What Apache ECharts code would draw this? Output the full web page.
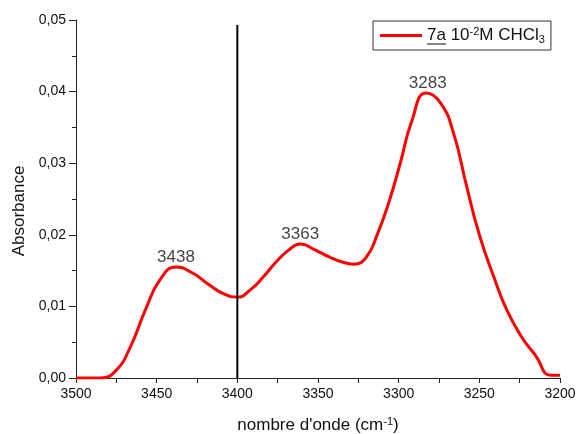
<!DOCTYPE html>
<html>
<head>
<meta charset="utf-8">
<script src="https://cdn.jsdelivr.net/npm/echarts@6/dist/echarts.min.js"></script>
<style>
html,body{margin:0;padding:0;background:#fff;}
#chart{width:579px;height:434px;}
</style>
</head>
<body>
<div id="chart"></div>
<script>
// Wavenumber (cm-1) and absorbance
var wavenumbers = [3500, 3485, 3475, 3466, 3457, 3448, 3438, 3428, 3418, 3408, 3400, 3392, 3384, 3376, 3368, 3361, 3352, 3343, 3335, 3328, 3320, 3313, 3306, 3299, 3292, 3283, 3274, 3266, 3258, 3250, 3241, 3233, 3224, 3215, 3206, 3200];
var absorbance  = [0.0000, 0.0000, 0.0011, 0.0045, 0.0095, 0.0137, 0.0155, 0.0147, 0.0131, 0.0117, 0.0113, 0.0123, 0.0141, 0.0162, 0.0179, 0.0187, 0.0179, 0.0169, 0.0162, 0.0159, 0.0169, 0.0202, 0.0246, 0.0300, 0.0358, 0.0398, 0.0384, 0.0342, 0.0269, 0.0200, 0.0141, 0.0095, 0.0058, 0.0031, 0.0004, 0.0004];

var peakLabels = ['3438', '3363', '3283'];
var peakX = [3438, 3361, 3282];
var peakY = [0.0155, 0.0187, 0.0398];

var markerX = [3400, 3400];
var markerY = [0, 0.0493];

var xTicks = [3500, 3450, 3400, 3350, 3300, 3250, 3200];
var yTicks = [0, 0.01, 0.02, 0.03, 0.04, 0.05];

var seriesName = '7a 10-2M CHCl3';

var chart = echarts.init(document.getElementById('chart'), null, {renderer: 'canvas'});
var FONT = '"Liberation Sans", Arial, sans-serif';

var spectrum = wavenumbers.map(function (w, i) { return [w, absorbance[i]]; });
var marker = markerX.map(function (w, i) { return [w, markerY[i]]; });
var peaks = peakX.map(function (w, i) { return {value: [w, peakY[i]], name: peakLabels[i]}; });

chart.setOption({
  backgroundColor: '#fff',
  animation: false,
  textStyle: {fontFamily: FONT},
  grid: {left: 76, right: 19, top: 20, bottom: 56, containLabel: false, outerBoundsMode: 'none'},
  legend: {
    show: true,
    data: [{name: seriesName, icon: 'rect'}],
    left: 373, top: 21,
    padding: [5, 6, 5, 7],
    borderColor: '#333', borderWidth: 1, borderRadius: 0,
    itemWidth: 42, itemHeight: 3,
    itemStyle: {color: '#ff0000'},
    textStyle: {
      fontFamily: FONT, fontSize: 17, color: '#111',
      rich: {
        sup: {fontSize: 11, verticalAlign: 'top', padding: [0, 0, 6, 0], color: '#111'},
        sub: {fontSize: 11, verticalAlign: 'bottom', padding: [8, 0, 0, 0], color: '#111'}
      }
    },
    formatter: function () { return '7a 10{sup|-2}M CHCl{sub|3}'; }
  },
  xAxis: {
    type: 'value', inverse: true, min: 3200, max: 3500, interval: 50,
    name: "nombre d'onde (cm{sup|-1})",
    nameLocation: 'middle', nameGap: 38,
    nameTextStyle: {fontSize: 17, color: '#111', fontFamily: FONT,
      rich: {sup: {fontSize: 11, verticalAlign: 'top', padding: [0, 0, 7, 0], color: '#111'}}},
    axisLine: {show: true, lineStyle: {color: '#222', width: 1}},
    axisTick: {show: true, inside: false, length: 5, lineStyle: {color: '#222'}},
    minorTick: {show: true, splitNumber: 2, length: 5, lineStyle: {color: '#222'}},
    splitLine: {show: false},
    axisLabel: {fontSize: 14, color: '#111', margin: 9, fontFamily: FONT,
      formatter: function (v) { return xTicks.indexOf(v) >= 0 ? String(v) : ''; }}
  },
  yAxis: {
    type: 'value', min: 0, max: 0.05, interval: 0.01,
    name: 'Absorbance', nameLocation: 'middle', nameGap: 48, nameRotate: 90,
    nameTextStyle: {fontSize: 17, color: '#111', fontFamily: FONT, padding: [0, 24, 0, 0]},
    axisLine: {show: true, lineStyle: {color: '#222', width: 1}},
    axisTick: {show: true, inside: false, length: 7, lineStyle: {color: '#222'}},
    minorTick: {show: true, splitNumber: 2, length: 4, lineStyle: {color: '#222'}},
    splitLine: {show: false},
    axisLabel: {fontSize: 14, color: '#111', margin: 10, fontFamily: FONT,
      formatter: function (v) {
        for (var i = 0; i < yTicks.length; i++) {
          if (Math.abs(yTicks[i] - v) < 1e-9) return yTicks[i].toFixed(2).replace('.', ',');
        }
        return '';
      }}
  },
  series: [
    {
      name: seriesName, type: 'line', data: spectrum,
      smooth: 0.5, symbol: 'none', clip: true,
      lineStyle: {color: '#ff0000', width: 3},
      itemStyle: {color: '#ff0000'},
      z: 3
    },
    {
      name: 'marker', type: 'line', data: marker,
      symbol: 'none', lineStyle: {color: '#000', width: 2},
      clip: false, z: 4, silent: true
    },
    {
      name: 'peaks', type: 'scatter', data: peaks,
      symbolSize: 0.1, itemStyle: {color: 'rgba(0,0,0,0)'},
      label: {show: true, position: 'top', distance: 1, fontSize: 17, color: '#111', fontFamily: FONT,
        formatter: function (p) { return p.name; }},
      z: 5, silent: true
    }
  ],
  graphic: [{
    type: 'line', silent: true,
    shape: {x1: 427, y1: 44, x2: 446, y2: 44},
    style: {stroke: '#111', lineWidth: 1}
  }]
});
</script>
</body>
</html>
